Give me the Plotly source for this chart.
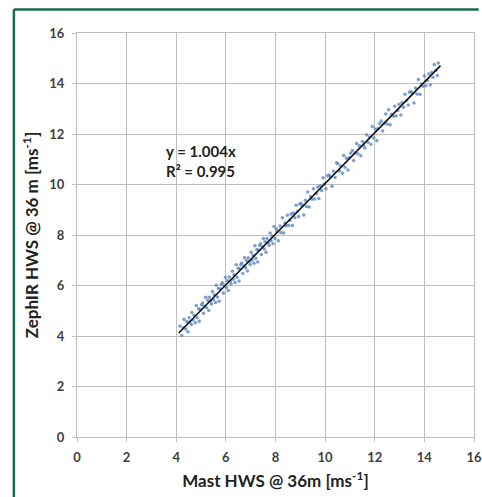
import plotly.graph_objects as go

# Mast HWS (x) vs ZephIR HWS (y), m/s
mast_hws = [
    4.15, 4.22, 4.28, 4.31, 4.38, 4.42, 4.47, 4.52, 4.55, 4.61, 4.63, 4.68, 4.72, 4.77, 4.81,
    4.84, 4.9, 4.93, 4.97, 5.02, 5.06, 5.1, 5.13, 5.18, 5.22, 5.27, 5.31, 5.33, 5.38, 5.42,
    5.46, 5.5, 5.53, 5.58, 5.61, 5.66, 5.7, 5.73, 5.78, 5.82, 5.86, 5.9, 5.94, 5.98,
    6.02, 6.05, 6.1, 6.14, 6.18, 6.21, 6.26, 6.3, 6.33, 6.37, 6.42, 6.45, 6.5, 6.53, 6.57,
    6.6, 6.64, 6.68, 6.72, 6.75, 6.8, 6.83, 6.87, 6.9, 6.95, 6.98, 7.02, 7.06, 7.1, 7.13,
    7.17, 7.2, 7.25, 7.28, 7.32, 7.36, 7.4, 7.43, 7.48, 7.51, 7.55, 7.58, 7.62, 7.66, 7.7,
    7.74, 7.78, 7.82, 7.86, 7.9, 7.94, 7.98,
    8.03, 8.08, 8.12, 8.18, 8.22, 8.28, 8.33, 8.38, 8.42, 8.48, 8.53, 8.58, 8.63, 8.68, 8.72,
    8.78, 8.83, 8.88, 8.93, 8.98, 9.03, 9.08, 9.14, 9.2, 9.25, 9.3, 9.36, 9.42, 9.47, 9.53,
    9.58, 9.64, 9.7, 9.75, 9.8, 9.86, 9.92, 9.97, 10.03, 10.1, 10.16, 10.22, 10.28, 10.34,
    10.4, 10.46,
    10.52, 10.58, 10.63, 10.7, 10.75, 10.8, 10.86, 10.92, 10.98, 11.03, 11.1, 11.15, 11.2,
    11.27, 11.32, 11.38, 11.44, 11.5, 11.55, 11.6, 11.67, 11.72, 11.78, 11.84, 11.9, 11.96,
    12.02, 12.08, 12.13, 12.2, 12.26, 12.32, 12.38, 12.44, 12.5,
    12.56, 12.62, 12.68, 12.75, 12.8, 12.86, 12.93, 12.98, 13.05, 13.1, 13.16, 13.22, 13.28,
    13.35, 13.4, 13.46, 13.52, 13.58, 13.64, 13.7, 13.76, 13.82, 13.88, 13.94, 14.0, 14.06,
    14.12, 14.18, 14.24, 14.3, 14.35, 14.4, 14.46, 14.52, 14.56,
]
zephir_hws = [
    4.40, 4.02, 4.33, 4.66, 4.28, 4.57, 4.17, 4.72, 4.55, 4.46, 4.93, 4.63, 4.82, 4.52, 5.21,
    4.72, 5.08, 4.58, 5.05, 5.24, 5.31, 4.90, 5.18, 5.53, 5.12, 5.42, 5.01, 5.53, 5.38, 5.27,
    5.76, 5.45, 5.63, 5.33, 6.01, 5.54, 5.88, 5.38, 5.86, 6.04, 6.11, 5.70, 5.99, 6.33,
    5.92, 6.20, 5.80, 6.34, 6.18, 6.06, 6.56, 6.25, 6.43, 6.12, 6.82, 6.33, 6.68, 6.18, 6.65,
    6.82, 6.89, 6.48, 6.77, 7.10, 6.70, 6.98, 6.57, 7.10, 6.95, 6.83, 7.32, 7.01, 7.20, 6.88,
    7.57, 7.08, 7.43, 6.93, 7.40, 7.58, 7.65, 7.23, 7.53, 7.86, 7.45, 7.73, 7.32, 7.86, 7.70,
    7.59, 8.08, 7.77, 7.96, 7.65, 8.34, 7.86,
    8.25, 8.16, 7.77, 8.36, 8.10, 8.68, 8.08, 8.48, 8.37, 8.78, 8.38, 8.58, 8.83, 8.38, 8.87,
    8.68, 9.18, 8.93, 8.73, 9.23, 9.25, 9.16, 8.79, 9.38, 9.13, 9.70, 9.11, 9.52, 9.42, 9.83,
    9.43, 9.64, 9.90, 9.45, 9.95, 9.76, 10.27, 10.02, 9.83, 10.35, 10.38, 10.30, 9.93, 10.52,
    10.28, 10.86,
    10.82, 10.53, 10.73, 10.45, 11.15, 10.68, 11.04, 10.57, 11.06, 11.25, 11.35, 10.95, 11.25,
    11.62, 11.22, 11.53, 11.14, 11.70, 11.55, 11.45, 11.97, 11.67, 11.88, 11.59, 12.30, 11.84,
    12.20, 11.73, 12.21, 12.42, 12.51, 12.12, 12.43, 12.79, 12.40,
    12.96, 12.37, 12.78, 12.70, 13.10, 12.71, 12.93, 13.18, 12.75, 13.25, 13.06, 13.57, 13.33,
    13.15, 13.65, 13.68, 13.60, 13.23, 13.82, 13.58, 14.16, 13.57, 13.98, 13.89, 14.30, 13.91,
    14.12, 14.38, 13.94, 14.45, 14.25, 14.75, 14.51, 14.32, 14.81,
]

# Linear trend (through origin)
trend_slope = 1.004
trend_x = [4.1, 14.65]
trend_y = [trend_slope * v for v in trend_x]

tick_vals = [0, 2, 4, 6, 8, 10, 12, 14, 16]
equation_text = "y = 1.004x<br>R² = 0.995"

fig = go.Figure()
fig.add_trace(go.Scatter(
    x=mast_hws, y=zephir_hws, mode="markers",
    marker=dict(color="#4f7fc0", size=3.5, opacity=0.75),
    showlegend=False, hoverinfo="skip",
))
fig.add_trace(go.Scatter(
    x=trend_x, y=trend_y, mode="lines",
    line=dict(color="#111111", width=1.6),
    showlegend=False, hoverinfo="skip",
))

axis_common = dict(
    range=[0, 16], tickvals=tick_vals, showgrid=True, gridcolor="#bfbfbf", gridwidth=1,
    showline=True, linecolor="#bfbfbf", linewidth=1, mirror=True, zeroline=False,
    ticks="outside", ticklen=4, tickcolor="#bfbfbf", automargin=False,
    tickfont=dict(family="Lato", size=13, color="#404040", weight="bold"),
    fixedrange=True,
)

border_color = "#176b4a"

fig.update_layout(
    width=482, height=497,
    margin=dict(l=77, r=8, t=33, b=60, autoexpand=False),
    paper_bgcolor="white", plot_bgcolor="white",
    xaxis=dict(**axis_common, ticklabelstandoff=4,
               title=dict(text="<b>Mast HWS @ 36m [ms<sup>-1</sup>]</b>",
                          font=dict(family="Lato", size=17, color="#222222"), standoff=11)),
    yaxis=dict(**axis_common, ticklabelstandoff=5,
               title=dict(text="<b>ZephIR HWS @ 36 m [ms<sup>-1</sup>]</b>",
                          font=dict(family="Lato", size=17, color="#222222"), standoff=6)),
    annotations=[dict(
        x=5.0, y=10.93, xref="x", yref="y", text="<b>" + equation_text + "</b>",
        showarrow=False, align="left",
        font=dict(family="Lato", size=15, color="#222222"),
    )],
    shapes=[
        dict(type="line", xref="paper", yref="paper",
             x0=-0.159, x1=-0.159, y0=-0.2, y1=1.058,
             line=dict(color=border_color, width=2.5)),
        dict(type="line", xref="paper", yref="paper",
             x0=-0.159, x1=1.012, y0=1.058, y1=1.058,
             line=dict(color=border_color, width=2.5)),
    ],
)

fig.write_html(
    "out.html",
    config={"displayModeBar": False, "staticPlot": True},
    post_script="document.body.style.margin='0';document.body.style.overflow='hidden';",
)
